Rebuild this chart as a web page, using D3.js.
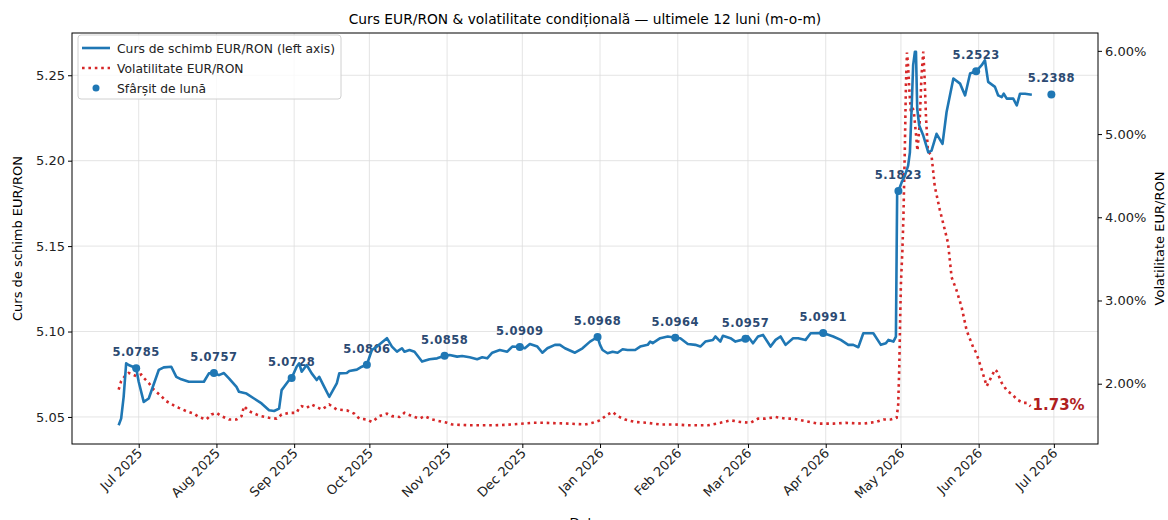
<!DOCTYPE html>
<html>
<head>
<meta charset="utf-8">
<script src="https://cdn.jsdelivr.net/npm/d3@7"></script>
<style>
    body { margin: 0; background: #fff; }
    svg { font-family: "DejaVu Sans", sans-serif; }
    .grid line { stroke: #dddddd; stroke-width: 0.8; }
    .axis path, .axis line { stroke: #000; }
</style>
</head>
<body>
<svg id="chart" width="1168" height="520"></svg>
<script>
// EUR/RON daily rate (date, value)
let fxSeries = [
    ["2025-06-23", 5.0451], ["2025-06-24", 5.0490], ["2025-06-25", 5.0618], ["2025-06-26", 5.0814],
    ["2025-06-27", 5.0804], ["2025-06-30", 5.0785], ["2025-07-01", 5.0706], ["2025-07-03", 5.0588],
    ["2025-07-05", 5.0608], ["2025-07-09", 5.0775], ["2025-07-11", 5.0790], ["2025-07-14", 5.0794],
    ["2025-07-16", 5.0735], ["2025-07-18", 5.0720], ["2025-07-21", 5.0706], ["2025-07-23", 5.0706],
    ["2025-07-27", 5.0706], ["2025-07-29", 5.0755], ["2025-07-31", 5.0757], ["2025-08-02", 5.0745],
    ["2025-08-04", 5.0757], ["2025-08-06", 5.0726], ["2025-08-09", 5.0676], ["2025-08-10", 5.0647],
    ["2025-08-13", 5.0637], ["2025-08-16", 5.0608], ["2025-08-19", 5.0579], ["2025-08-22", 5.0539],
    ["2025-08-24", 5.0535], ["2025-08-26", 5.0549], ["2025-08-27", 5.0657], ["2025-08-28", 5.0677],
    ["2025-08-30", 5.0716], ["2025-08-31", 5.0728], ["2025-09-02", 5.0794], ["2025-09-03", 5.0814],
    ["2025-09-04", 5.0765], ["2025-09-06", 5.0804], ["2025-09-08", 5.0755], ["2025-09-10", 5.0716],
    ["2025-09-11", 5.0735], ["2025-09-13", 5.0676], ["2025-09-15", 5.0618], ["2025-09-18", 5.0696],
    ["2025-09-19", 5.0755], ["2025-09-22", 5.0757], ["2025-09-23", 5.0769], ["2025-09-26", 5.0777],
    ["2025-09-28", 5.0794], ["2025-09-30", 5.0806], ["2025-10-02", 5.0892], ["2025-10-04", 5.0912],
    ["2025-10-08", 5.0961], ["2025-10-10", 5.0912], ["2025-10-12", 5.0882], ["2025-10-14", 5.0902],
    ["2025-10-15", 5.0882], ["2025-10-17", 5.0892], ["2025-10-19", 5.0882], ["2025-10-20", 5.0863],
    ["2025-10-22", 5.0824], ["2025-10-25", 5.0838], ["2025-10-28", 5.0843], ["2025-10-31", 5.0858],
    ["2025-11-02", 5.0863], ["2025-11-05", 5.0853], ["2025-11-07", 5.0857], ["2025-11-10", 5.0849],
    ["2025-11-13", 5.0838], ["2025-11-15", 5.0849], ["2025-11-17", 5.0843], ["2025-11-19", 5.0876],
    ["2025-11-22", 5.0892], ["2025-11-25", 5.0882], ["2025-11-27", 5.0912], ["2025-11-30", 5.0909],
    ["2025-12-02", 5.0902], ["2025-12-04", 5.0927], ["2025-12-07", 5.0912], ["2025-12-09", 5.0876],
    ["2025-12-11", 5.0902], ["2025-12-14", 5.0922], ["2025-12-16", 5.0922], ["2025-12-18", 5.0902],
    ["2025-12-22", 5.0876], ["2025-12-25", 5.0902], ["2025-12-28", 5.0941], ["2025-12-31", 5.0968],
    ["2026-01-01", 5.0922], ["2026-01-02", 5.0892], ["2026-01-04", 5.0873], ["2026-01-06", 5.0882],
    ["2026-01-08", 5.0876], ["2026-01-10", 5.0896], ["2026-01-12", 5.0892], ["2026-01-15", 5.0892],
    ["2026-01-17", 5.0912], ["2026-01-20", 5.0922], ["2026-01-21", 5.0941], ["2026-01-22", 5.0932],
    ["2026-01-25", 5.0961], ["2026-01-28", 5.0971], ["2026-01-31", 5.0964], ["2026-02-02", 5.0961],
    ["2026-02-05", 5.0927], ["2026-02-08", 5.0922], ["2026-02-10", 5.0912], ["2026-02-12", 5.0941],
    ["2026-02-15", 5.0951], ["2026-02-16", 5.0971], ["2026-02-18", 5.0941], ["2026-02-19", 5.0975],
    ["2026-02-22", 5.0961], ["2026-02-24", 5.0941], ["2026-02-28", 5.0957], ["2026-03-01", 5.0971],
    ["2026-03-03", 5.0931], ["2026-03-05", 5.0971], ["2026-03-07", 5.0980], ["2026-03-10", 5.0912],
    ["2026-03-12", 5.0951], ["2026-03-14", 5.0971], ["2026-03-16", 5.0922], ["2026-03-19", 5.0961],
    ["2026-03-21", 5.0961], ["2026-03-24", 5.0951], ["2026-03-26", 5.0990], ["2026-03-31", 5.0991],
    ["2026-04-04", 5.0971], ["2026-04-07", 5.0951], ["2026-04-10", 5.0922], ["2026-04-12", 5.0922],
    ["2026-04-14", 5.0908], ["2026-04-16", 5.0990], ["2026-04-20", 5.0990], ["2026-04-23", 5.0922],
    ["2026-04-25", 5.0931], ["2026-04-26", 5.0951], ["2026-04-28", 5.0941], ["2026-04-29T00:00", 5.0970],
    ["2026-04-29T12:00", 5.1814], ["2026-04-30T00:00", 5.1823], ["2026-05-01T07:00", 5.1873],
    ["2026-05-02T14:00", 5.1912], ["2026-05-03T21:00", 5.1971], ["2026-05-04T14:00", 5.2049],
    ["2026-05-05T05:00", 5.2285], ["2026-05-05T21:00", 5.2559], ["2026-05-06T14:00", 5.2638],
    ["2026-05-07T00:00", 5.2638], ["2026-05-07T12:00", 5.2304], ["2026-05-08T07:00", 5.2206],
    ["2026-05-09T22:00", 5.2147], ["2026-05-11T22:00", 5.2049], ["2026-05-13T05:00", 5.2059],
    ["2026-05-15T05:00", 5.2157], ["2026-05-17T14:00", 5.2098], ["2026-05-19T05:00", 5.2285],
    ["2026-05-21T22:00", 5.2481], ["2026-05-24T14:00", 5.2451], ["2026-05-26T14:00", 5.2382],
    ["2026-05-28T14:00", 5.2510], ["2026-05-31T00:00", 5.2523], ["2026-06-02T05:00", 5.2559],
    ["2026-06-03T12:00", 5.2588], ["2026-06-04T19:00", 5.2461], ["2026-06-07T12:00", 5.2432],
    ["2026-06-08T19:00", 5.2382], ["2026-06-10T05:00", 5.2372], ["2026-06-11T00:00", 5.2392],
    ["2026-06-12T05:00", 5.2363], ["2026-06-14T19:00", 5.2363], ["2026-06-16T05:00", 5.2324],
    ["2026-06-17T12:00", 5.2392], ["2026-06-19T12:00", 5.2392], ["2026-06-22T05:00", 5.2386]
];

// conditional volatility, % (date, value)
let volSeries = [
    ["2025-06-23", 1.93], ["2025-06-24", 2.03], ["2025-06-25", 2.07], ["2025-06-26", 2.11],
    ["2025-06-27", 2.13], ["2025-06-28", 2.12], ["2025-06-30", 2.09], ["2025-07-01", 2.10],
    ["2025-07-02", 2.11], ["2025-07-03", 2.07], ["2025-07-05", 2.01], ["2025-07-07", 1.93],
    ["2025-07-10", 1.85], ["2025-07-12", 1.79], ["2025-07-15", 1.74], ["2025-07-17", 1.71],
    ["2025-07-20", 1.67], ["2025-07-23", 1.64], ["2025-07-25", 1.60], ["2025-07-28", 1.57],
    ["2025-07-30", 1.63], ["2025-08-01", 1.65], ["2025-08-03", 1.61], ["2025-08-06", 1.57],
    ["2025-08-09", 1.57], ["2025-08-11", 1.61], ["2025-08-12", 1.73], ["2025-08-14", 1.67],
    ["2025-08-17", 1.63], ["2025-08-19", 1.61], ["2025-08-22", 1.59], ["2025-08-25", 1.58],
    ["2025-08-27", 1.63], ["2025-08-30", 1.65], ["2025-09-02", 1.65], ["2025-09-03", 1.71],
    ["2025-09-04", 1.73], ["2025-09-06", 1.71], ["2025-09-08", 1.75], ["2025-09-10", 1.72],
    ["2025-09-12", 1.69], ["2025-09-15", 1.75], ["2025-09-18", 1.69], ["2025-09-22", 1.68],
    ["2025-09-25", 1.64], ["2025-09-27", 1.58], ["2025-09-30", 1.57], ["2025-10-02", 1.54],
    ["2025-10-05", 1.61], ["2025-10-08", 1.64], ["2025-10-10", 1.61], ["2025-10-13", 1.60],
    ["2025-10-15", 1.65], ["2025-10-18", 1.61], ["2025-10-21", 1.58], ["2025-10-23", 1.61],
    ["2025-10-26", 1.57], ["2025-10-29", 1.55], ["2025-11-01", 1.53], ["2025-11-03", 1.51],
    ["2025-11-10", 1.50], ["2025-11-20", 1.50], ["2025-11-27", 1.51], ["2025-12-05", 1.53],
    ["2025-12-10", 1.53], ["2025-12-20", 1.52], ["2025-12-26", 1.51], ["2025-12-29", 1.53],
    ["2026-01-01", 1.56], ["2026-01-04", 1.63], ["2026-01-06", 1.66], ["2026-01-08", 1.61],
    ["2026-01-11", 1.57], ["2026-01-15", 1.54], ["2026-01-20", 1.53], ["2026-01-25", 1.51],
    ["2026-01-31", 1.51], ["2026-02-05", 1.50], ["2026-02-13", 1.50], ["2026-02-18", 1.53],
    ["2026-02-22", 1.56], ["2026-02-26", 1.54], ["2026-03-02", 1.53], ["2026-03-05", 1.58],
    ["2026-03-08", 1.58], ["2026-03-12", 1.60], ["2026-03-16", 1.58], ["2026-03-19", 1.58],
    ["2026-03-24", 1.55], ["2026-03-29", 1.52], ["2026-04-04", 1.52], ["2026-04-09", 1.53],
    ["2026-04-16", 1.52], ["2026-04-21", 1.54], ["2026-04-24", 1.57], ["2026-04-27", 1.57],
    ["2026-04-29T07:00", 1.59], ["2026-04-29T22:00", 1.75], ["2026-04-30T08:00", 2.19],
    ["2026-04-30T17:00", 2.80], ["2026-05-01T00:00", 3.20], ["2026-05-01T14:00", 3.60],
    ["2026-05-02T00:00", 4.00], ["2026-05-02T14:00", 4.86], ["2026-05-03T00:00", 5.60],
    ["2026-05-03T10:00", 5.98], ["2026-05-03T19:00", 5.85], ["2026-05-04T10:00", 5.50],
    ["2026-05-05T00:00", 5.25], ["2026-05-05T14:00", 5.33], ["2026-05-06T05:00", 5.25],
    ["2026-05-07T00:00", 5.00], ["2026-05-07T14:00", 4.80], ["2026-05-08T10:00", 5.10],
    ["2026-05-09T05:00", 5.70], ["2026-05-09T22:00", 5.99], ["2026-05-10T10:00", 5.70],
    ["2026-05-11T00:00", 5.20], ["2026-05-11T18:00", 4.80], ["2026-05-13T05:00", 4.74],
    ["2026-05-14T12:00", 4.37], ["2026-05-16T12:00", 4.09], ["2026-05-18T12:00", 3.85],
    ["2026-05-19T19:00", 3.69], ["2026-05-21T05:00", 3.28], ["2026-05-23T05:00", 3.12],
    ["2026-05-25T05:00", 2.92], ["2026-05-27T05:00", 2.64], ["2026-05-29T19:00", 2.44],
    ["2026-05-31T05:00", 2.36], ["2026-06-02T05:00", 2.17], ["2026-06-04T05:00", 1.97],
    ["2026-06-06T05:00", 2.09], ["2026-06-07T12:00", 2.17], ["2026-06-08T05:00", 2.15],
    ["2026-06-10T05:00", 2.01], ["2026-06-12T05:00", 1.92], ["2026-06-14T19:00", 1.86],
    ["2026-06-16T05:00", 1.81], ["2026-06-18T19:00", 1.77], ["2026-06-20T05:00", 1.77],
    ["2026-06-21T17:00", 1.73]
];

// month-end points
let monthEndDates = ["2025-06-30", "2025-07-31", "2025-08-31", "2025-09-30", "2025-10-31", "2025-11-30",
    "2025-12-31", "2026-01-31", "2026-02-28", "2026-03-31", "2026-04-30", "2026-05-31", "2026-06-30"];
let monthEndValues = [5.0785, 5.0757, 5.0728, 5.0806, 5.0858, 5.0909,
    5.0968, 5.0964, 5.0957, 5.0991, 5.1823, 5.2523, 5.2388];

let leftTicks = [5.05, 5.10, 5.15, 5.20, 5.25];
let rightTicks = [2, 3, 4, 5, 6];
let lastVolLabel = "1.73%";

let parseDate = d3.isoParse;
let fx = fxSeries.map(d => ({date: parseDate(d[0]), value: d[1]}));
let vol = volSeries.map(d => ({date: parseDate(d[0]), value: d[1]}));
let ends = monthEndDates.map((d, i) => ({date: parseDate(d), value: monthEndValues[i]}));

let svg = d3.select("#chart");
let margin = {top: 33, right: 70, bottom: 76, left: 72},
    width = 1168 - margin.left - margin.right,
    height = 520 - margin.top - margin.bottom;

let g = svg.append("g").attr("transform", "translate(" + margin.left + "," + margin.top + ")");

// domains padded by 5% like matplotlib autoscale
function padded(ext) {
    let span = ext[1] - ext[0];
    return [ext[0] - span * 0.05, ext[1] + span * 0.05];
}

let allDates = fx.map(d => d.date).concat(ends.map(d => d.date), vol.map(d => d.date));
let dExt = d3.extent(allDates).map(d => +d);
let x = d3.scaleTime().domain(padded(dExt).map(t => new Date(t))).range([0, width]);
let y = d3.scaleLinear().domain(padded(d3.extent(fx.concat(ends), d => d.value))).range([height, 0]);
let y2 = d3.scaleLinear().domain(padded(d3.extent(vol, d => d.value))).range([height, 0]);

let monthTicks = d3.timeMonth.range(new Date(2025, 6, 1), new Date(2026, 6, 2));

// grid
g.append("g").attr("class", "grid")
    .selectAll("line").data(monthTicks).enter().append("line")
    .attr("x1", d => x(d)).attr("x2", d => x(d))
    .attr("y1", 0).attr("y2", height);
g.append("g").attr("class", "grid")
    .selectAll("line").data(leftTicks).enter().append("line")
    .attr("x1", 0).attr("x2", width)
    .attr("y1", d => y(d)).attr("y2", d => y(d));

// month-end labels (under the lines)
let labelColor = "#2c4a72";
g.append("g").selectAll("text").data(ends).enter().append("text")
    .attr("x", d => x(d.date))
    .attr("y", d => y(d.value) - 12)
    .attr("text-anchor", "middle")
    .style("font-size", "11.5px")
    .style("font-weight", "bold")
    .style("letter-spacing", "0.5px")
    .style("fill", labelColor)
    .text(d => d.value.toFixed(4));

// volatility line
let volLine = d3.line().x(d => x(d.date)).y(d => y2(d.value));
g.append("path")
    .datum(vol)
    .attr("d", volLine)
    .attr("fill", "none")
    .attr("stroke", "#d62728")
    .attr("stroke-width", 2.6)
    .attr("stroke-dasharray", "2.6,3.8");

// rate line
let fxLine = d3.line().x(d => x(d.date)).y(d => y(d.value));
g.append("path")
    .datum(fx)
    .attr("d", fxLine)
    .attr("fill", "none")
    .attr("stroke", "#1f77b4")
    .attr("stroke-width", 2.6)
    .attr("stroke-linejoin", "round");

// month-end dots
g.append("g").selectAll("circle").data(ends).enter().append("circle")
    .attr("cx", d => x(d.date))
    .attr("cy", d => y(d.value))
    .attr("r", 4)
    .attr("fill", "#1f77b4");

// last volatility label
let lastVol = vol[vol.length - 1];
g.append("text")
    .attr("x", x(lastVol.date) + 2)
    .attr("y", y2(lastVol.value) + 4)
    .style("font-size", "15px")
    .style("font-weight", "bold")
    .style("fill", "#b01e1e")
    .text(lastVolLabel);

// axes
function styleTicks(sel) {
    sel.selectAll("text")
        .style("font-size", "13px")
        .style("font-family", "'DejaVu Sans', sans-serif")
        .style("fill", "#222");
    sel.select(".domain").remove();
}

let xAxis = g.append("g").attr("class", "axis")
    .attr("transform", "translate(0," + height + ")")
    .call(d3.axisBottom(x).tickValues(monthTicks).tickSize(4).tickFormat(d3.timeFormat("%b %Y")));
styleTicks(xAxis);
xAxis.selectAll("text")
    .attr("text-anchor", "end")
    .attr("dy", null)
    .attr("y", null)
    .attr("transform", "translate(4,10) rotate(-45)");

let yAxis = g.append("g").attr("class", "axis")
    .call(d3.axisLeft(y).tickValues(leftTicks).tickSize(4).tickFormat(d3.format(".2f")));
styleTicks(yAxis);

let y2Axis = g.append("g").attr("class", "axis")
    .attr("transform", "translate(" + width + ",0)")
    .call(d3.axisRight(y2).tickValues(rightTicks).tickSize(4).tickFormat(d => d.toFixed(2) + "%"));
styleTicks(y2Axis);

// frame
g.append("rect")
    .attr("width", width).attr("height", height)
    .attr("fill", "none").attr("stroke", "#000").attr("stroke-width", 1);

// titles
svg.append("text")
    .attr("x", margin.left + width / 2).attr("y", 24)
    .attr("text-anchor", "middle")
    .style("font-size", "13.8px")
    .text("Curs EUR/RON & volatilitate condițională — ultimele 12 luni (m-o-m)");

svg.append("text")
    .attr("transform", "translate(22," + (margin.top + height / 2) + ") rotate(-90)")
    .attr("text-anchor", "middle")
    .style("font-size", "13px")
    .text("Curs de schimb EUR/RON");

svg.append("text")
    .attr("transform", "translate(1164," + (margin.top + height / 2) + ") rotate(-90)")
    .attr("text-anchor", "middle")
    .style("font-size", "13px")
    .text("Volatilitate EUR/RON");

svg.append("text")
    .attr("x", margin.left + width / 2).attr("y", 527)
    .attr("text-anchor", "middle")
    .style("font-size", "13px")
    .text("Data");

// legend
let legend = svg.append("g").attr("transform", "translate(78,35)");
legend.append("rect")
    .attr("width", 263).attr("height", 64).attr("rx", 3)
    .attr("fill", "#fff").attr("fill-opacity", 0.8)
    .attr("stroke", "#d0d0d0");
let items = [
    {label: "Curs de schimb EUR/RON (left axis)", type: "line"},
    {label: "Volatilitate EUR/RON", type: "dots"},
    {label: "Sfârșit de lună", type: "marker"}
];
items.forEach((it, i) => {
    let cy = 13 + i * 20;
    if (it.type === "line") {
        legend.append("line").attr("x1", 4).attr("x2", 32).attr("y1", cy).attr("y2", cy)
            .attr("stroke", "#1f77b4").attr("stroke-width", 2.6);
    } else if (it.type === "dots") {
        legend.append("line").attr("x1", 4).attr("x2", 32).attr("y1", cy).attr("y2", cy)
            .attr("stroke", "#d62728").attr("stroke-width", 2.6).attr("stroke-dasharray", "2.6,3.8");
    } else {
        legend.append("circle").attr("cx", 18).attr("cy", cy).attr("r", 3.5).attr("fill", "#1f77b4");
    }
    legend.append("text").attr("x", 39).attr("y", cy + 4.5)
        .style("font-size", "12.3px").style("fill", "#222")
        .text(it.label);
});
</script>
</body>
</html>
